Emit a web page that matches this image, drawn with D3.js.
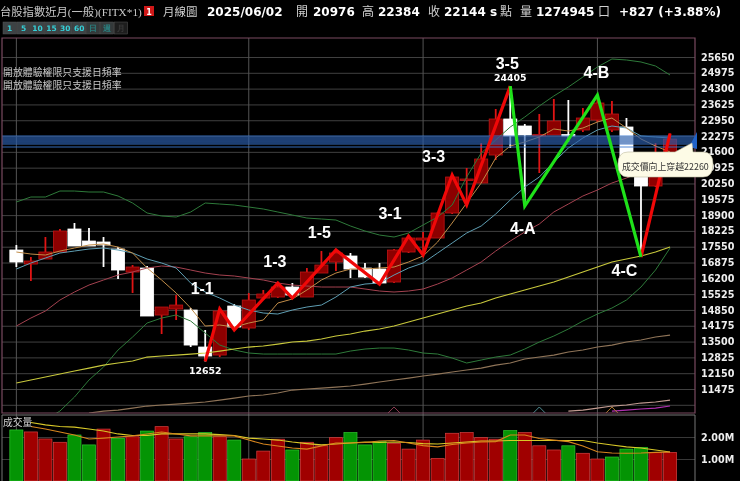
<!DOCTYPE html>
<html>
<head>
<meta charset="utf-8">
<script src="https://cdn.jsdelivr.net/npm/d3@7"></script>
<style>
  html, body { margin: 0; padding: 0; background: #000; overflow: hidden; }
  svg { display: block; filter: blur(0.3px); }
  text { font-family: "Noto Sans CJK TC", sans-serif; }
  .num { font-family: "DejaVu Sans", sans-serif; font-weight: bold; }
  .title { font-family: "Liberation Serif", "Noto Sans CJK TC", serif; }
  .wave { font-family: "Liberation Sans", sans-serif; font-weight: bold; font-size: 16px; fill: #fff; text-anchor: middle; }
</style>
</head>
<body>
<div id="chart"></div>
<script>
var width = 740, height = 481;

var months = [
  "2021/09","2021/10","2021/11","2021/12",
  "2022/01","2022/02","2022/03","2022/04","2022/05","2022/06","2022/07","2022/08","2022/09","2022/10","2022/11","2022/12",
  "2023/01","2023/02","2023/03","2023/04","2023/05","2023/06","2023/07","2023/08","2023/09","2023/10","2023/11","2023/12",
  "2024/01","2024/02","2024/03","2024/04","2024/05","2024/06","2024/07","2024/08","2024/09","2024/10","2024/11","2024/12",
  "2025/01","2025/02","2025/03","2025/04","2025/05","2025/06"
];

// open, high, low, close per month
var opens = [17409,16811,17025,17324,18306,17793,17751,17452,16470,16640,14633,14890,14847,13267,12925,15018,14078,15359,15402,15829,15402,16427,16897,17153,16640,16598,16043,17324,17836,17921,18989,20398,20270,21465,23003,22704,22300,22319,22340,22533,22960,22533,22661,21380,20142,20976];
var highs = [17622,17110,17964,18306,18562,18348,17964,17537,16768,16726,14975,15487,14932,13993,14890,15103,15573,15701,16000,16000,16640,17366,17409,17281,16854,16854,17452,18007,18178,19032,20611,20910,21978,23430,24405,22789,23216,23857,23814,23472,24027,23771,23045,21423,21978,22384];
var lows  = [16683,16085,17025,17324,17580,17580,16683,16171,15573,14591,13822,14420,13267,12652,12840,13993,13993,15274,15359,15359,15402,16427,16512,16213,16213,15957,16000,17281,17195,17921,18946,19330,20270,21252,21764,19288,20697,22319,22021,22448,22875,22448,21337,17110,20099,20900];
var closes = [16897,16939,17324,18220,17580,17580,17622,16555,16683,14591,14975,15060,13352,12883,14804,14121,15274,15530,15829,15487,16470,16768,17281,16598,16256,16000,17409,17921,17921,18989,20526,20441,21295,23003,22277,22319,22340,22917,22290,23045,23686,23216,21380,20142,21337,22144];

var ma5 = [17324,17238,17195,17366,17494,17622,17665,17537,17281,16640,16128,15573,14932,14164,14207,14121,14292,14420,15146,15317,15701,16128,16427,16598,16598,16640,16683,16897,17153,17751,18562,19416,20270,21338,21850,22021,22234,22576,22490,22618,22875,23045,22618,22149,21850,21594];
var ma10 = [16598,16854,17067,17281,17366,17452,17494,17409,17281,17025,16854,16640,16000,15616,15359,15060,14847,14719,14676,14847,14975,15060,15402,15829,15957,16000,16342,16640,16854,17281,17708,18135,18434,18946,19544,20099,20526,21167,21764,22191,22533,22704,22618,22277,22234,22191];
var ma20 = [14164,14505,14804,15274,15616,15914,16128,16342,16470,16640,16726,16683,16555,16427,16342,16299,16213,16128,16000,15914,15872,15829,15829,15829,15744,15658,15616,15658,15744,15957,16213,16555,16897,17366,17793,18178,18519,19032,19373,19715,19971,20270,20483,20740,20953,21167];
var ma60 = [11730,11858,11986,12114,12242,12370,12498,12584,12669,12840,12883,12925,12968,13011,13096,13182,13267,13310,13395,13481,13523,13609,13737,13822,13950,14036,14164,14335,14505,14676,14847,15018,15146,15359,15530,15701,15872,16043,16256,16470,16683,16897,17025,17153,17324,17537];
var bandUpper = [19459,19672,19672,19928,19928,19886,19886,19715,19416,18989,18861,18818,19032,19416,19373,19330,19245,19160,19032,18904,18775,18733,18690,18434,18220,18049,17964,18135,18477,18818,19330,20526,21551,22106,22661,23088,23558,23985,24369,24796,25223,25565,25522,25437,25266,24882];
var bandLower = [10150,10534,11132,11858,12413,13139,13694,14292,14505,14634,14377,13865,13352,13139,13011,12968,12968,12968,12968,12968,12968,13096,13182,13224,13224,13139,13011,12968,12797,12584,12712,12840,12925,13182,13481,13737,14036,14377,14676,14932,15274,15829,16555,17494];
var ma120 = [10449,10534,10577,10662,10748,10791,10833,10876,10919,11004,11089,11175,11218,11303,11431,11474,11516,11559,11602,11687,11773,11858,11943,12029,12114,12200,12285,12370,12498,12584,12755,12840,12925,13054,13139,13267,13352,13481,13566,13694,13779];
var ma240 = [10534,10577,10662,10748,10791,10876,10919,11004];
var ma300 = [10534,10577,10620,10662,10748];

// volume in millions, 1 = up month (red), 0 = down month (green)
var volumes = [2.32,2.23,1.91,1.76,2.09,1.64,2.36,1.94,2.01,2.27,2.47,1.91,2.01,2.20,2.01,1.86,1.00,1.36,1.90,1.41,1.76,1.60,1.97,2.20,1.64,1.79,1.71,1.45,1.86,1.03,2.17,2.20,1.97,1.90,2.29,2.20,1.60,1.41,1.60,1.26,1.00,1.09,1.45,1.53,1.29,1.30];
var volUp = [0,1,1,1,0,0,1,0,1,0,1,1,0,0,1,0,1,1,1,0,1,1,1,0,0,0,1,1,1,1,1,1,1,1,0,1,1,1,0,1,1,0,0,0,1,1];
var volMa5 = [2.48,2.36,2.23,2.09,1.91,1.95,2.00,2.05,2.14,2.23,2.14,2.05,2.05,2.05,2.05,1.86,1.68,1.59,1.50,1.45,1.59,1.73,1.73,1.75,1.82,1.84,1.73,1.61,1.55,1.66,1.73,1.77,1.79,2.09,2.09,1.93,1.86,1.79,1.59,1.33,1.27,1.26,1.27,1.30,1.32];
var volMa20 = [2.66,2.55,2.48,2.45,2.36,2.27,2.14,2.07,2.07,2.14,2.14,2.14,2.14,2.11,2.07,1.95,1.91,1.86,1.77,1.70,1.64,1.68,1.73,1.77,1.75,1.77,1.75,1.70,1.68,1.73,1.77,1.82,1.82,1.84,1.84,1.84,1.84,1.84,1.84,1.73,1.64,1.55,1.50,1.41,1.32];

var priceTicks = [25650,24975,24300,23625,22950,22275,21600,20925,20250,19575,18900,18225,17550,16875,16200,15525,14850,14175,13500,12825,12150,11475,10800];
var volTicks = [2, 1];
var yearLines = [0, 16, 28, 40];
var zoneLevels = [22277,22191,22106,22021,21935,21807];

// wave turning points: month index and whether it is a high or a low
var upWave = [[13,"l"],[14,"h"],[15,"l"],[18,"h"],[19,"l"],[22,"h"],[25,"l"],[27,"h"],[28,"l"],[30,"h"],[31,"l"],[34,"h"]];
var downWave = [[34,"h"],[35,"l"],[40,"h"],[43,"l"]];
var lastWave = [[43,"l"],[45,"h"]];

var waveLabels = [["1-1",13,-3,15786],["1-3",18,-3,16939],["1-5",21,-2,18178],["3-1",26,-4,18989],["3-3",29,-4,21423],["3-5",34,-3,25394],["4-A",35,-2,18348],["4-B",40,-1,25010],["4-C",42,-2,16555]];
var extremeLabels = [["24405",34,24405,-5],["12652",13,12652,6]];
var signalMarks = [[26,"#8a3a50"],[36,"#4f8f95"],[41,"#b07a30"]];

var buttons = ["1","5","10","15","30","60","日","週","月"];

// layout
var frame = { left: 2, right: 695, top: 38, bottom: 413, volTop: 415 };

var x = d3.scaleBand()
  .domain(d3.range(months.length))
  .range([9.1, 677.3])
  .paddingInner(0.1)
  .paddingOuter(0.05);
var bw = x.bandwidth();
function xc(i) { return x(i) + bw / 2; }

var y = d3.scaleLinear().domain([25650, 11475]).range([57, 389]);
var yVol = d3.scaleLinear().domain([0, 2]).range([481, 437]);

var svg = d3.select("#chart").append("svg")
  .attr("width", width)
  .attr("height", height)
  .style("background", "#000");

svg.append("clipPath").attr("id", "priceClip").append("rect")
  .attr("x", frame.left).attr("y", frame.top)
  .attr("width", frame.right - frame.left)
  .attr("height", frame.bottom - frame.top);

// --- header ---
var header = svg.append("g");
function head(txt, px, cls, size, fill) {
  header.append("text").attr("x", px).attr("y", 16)
    .attr("class", cls).style("font-size", size + "px")
    .style("fill", fill).text(txt);
}
head("台股指數近月(一般)(FITX*1)", 0, "title", 11.3, "#c8c8c8");
header.append("rect").attr("x", 144).attr("y", 6).attr("width", 10).attr("height", 10).attr("fill", "#d01818");
header.append("text").attr("x", 149).attr("y", 14.5).attr("text-anchor", "middle")
  .attr("class", "num").style("font-size", "8px").style("fill", "#fff").text("1");
head("月線圖", 163, "", 11.5, "#d0d0d0");
head("2025/06/02", 207, "num", 12, "#fff");
head("開", 296, "", 12, "#d0d0d0");
head("20976", 313, "num", 12, "#fff");
head("高", 362, "", 12, "#d0d0d0");
head("22384", 378, "num", 12, "#fff");
head("收", 428, "", 12, "#d0d0d0");
head("22144", 444, "num", 12, "#fff");
head("s", 490, "num", 12, "#fff");
head("點", 500, "", 12, "#d0d0d0");
head("量", 520, "", 12, "#d0d0d0");
head("1274945", 536, "num", 12, "#fff");
head("口", 598, "", 12, "#d0d0d0");
head("+827 (+3.88%)", 619, "num", 12, "#fff");

// period buttons
var btn = svg.append("g").selectAll("g").data(buttons).enter().append("g")
  .attr("transform", function(d, i) { return "translate(" + (3 + i * 13.9) + ",22)"; });
btn.append("rect").attr("width", 13.4).attr("height", 12)
  .attr("fill", function(d, i) { return i < 6 ? "#3d4244" : (i < 8 ? "#34393a" : "#1e1e1e"); })
  .attr("stroke", "#555").attr("stroke-width", 0.5);
btn.append("text").attr("x", 6.7).attr("y", 9.2).attr("text-anchor", "middle")
  .attr("class", "num").style("font-size", "7.5px")
  .style("fill", function(d, i) { return i < 6 ? "#35d0d8" : (i < 8 ? "#2a8080" : "#3a3a3a"); })
  .text(function(d) { return d; });

// --- grid and axes ---
var priceAxis = d3.axisRight(y)
  .tickValues(priceTicks)
  .tickSize(-(frame.right - frame.left))
  .tickPadding(6)
  .tickFormat(function(d) { return d === 10800 ? "" : d; });

var gp = svg.append("g").attr("transform", "translate(" + frame.right + ",0)").call(priceAxis);
gp.select(".domain").remove();
gp.selectAll("line").attr("stroke", "#404040");
gp.selectAll("text").attr("class", "num").style("font-size", "9.6px").style("fill", "#eee");

var volAxis = d3.axisRight(yVol)
  .tickValues(volTicks)
  .tickSize(-(frame.right - frame.left))
  .tickPadding(6)
  .tickFormat(function(d) { return d3.format(".2f")(d) + "M"; });

var gv = svg.append("g").attr("transform", "translate(" + frame.right + ",0)").call(volAxis);
gv.select(".domain").remove();
gv.selectAll("line").attr("stroke", "#383838");
gv.selectAll("text").attr("class", "num").style("font-size", "9.6px").style("fill", "#eee");

svg.append("g").selectAll("line").data(yearLines).enter().append("line")
  .attr("x1", xc).attr("x2", xc)
  .attr("y1", frame.top).attr("y2", height)
  .attr("stroke", "#555");

// --- candles ---
var idx = d3.range(months.length);
var plot = svg.append("g").attr("clip-path", "url(#priceClip)");

function isUp(i) { return closes[i] >= opens[i]; }

plot.append("g").selectAll("line").data(idx).enter().append("line")
  .attr("x1", xc).attr("x2", xc)
  .attr("y1", function(i) { return y(highs[i]); })
  .attr("y2", function(i) { return y(lows[i]); })
  .attr("stroke", function(i) { return isUp(i) ? "#e01414" : "#fff"; })
  .attr("stroke-width", 1.8);

plot.append("g").selectAll("rect").data(idx).enter().append("rect")
  .attr("x", function(i) { return x(i); })
  .attr("width", bw)
  .attr("y", function(i) { return y(Math.max(opens[i], closes[i])); })
  .attr("height", function(i) { return Math.max(1.5, Math.abs(y(opens[i]) - y(closes[i]))); })
  .attr("fill", function(i) { return isUp(i) ? "#8c0000" : "#fff"; })
  .attr("stroke", function(i) { return isUp(i) ? "#c01414" : "#fff"; })
  .attr("stroke-width", 0.8);

// --- moving averages and bands ---
function drawLine(parent, values, start, yScale, color, w) {
  var line = d3.line()
    .x(function(d, i) { return xc(i + start); })
    .y(function(d) { return yScale(d); });
  parent.append("path").datum(values)
    .attr("d", line)
    .attr("fill", "none")
    .attr("stroke", color)
    .attr("stroke-width", w);
}
drawLine(plot, bandUpper, 0, y, "#2e7a3a", 1);
drawLine(plot, bandLower, 2, y, "#2e7a3a", 1);
drawLine(plot, ma120, 5, y, "#8f7458", 1.2);
drawLine(plot, ma240, 38, y, "#c09a90", 1.2);
drawLine(plot, ma300, 41, y, "#b030b0", 1.2);
drawLine(plot, ma60, 0, y, "#c8c83c", 1.2);
drawLine(plot, ma20, 0, y, "#a54250", 1);
drawLine(plot, ma10, 0, y, "#5f9fb4", 1);
drawLine(plot, ma5, 0, y, "#c08c48", 1);

// small signal triangles on the lower edge
plot.append("g").selectAll("path").data(signalMarks).enter().append("path")
  .attr("d", function(d) {
    var cx = xc(d[0]);
    return "M" + (cx - 6) + "," + frame.bottom + "L" + cx + "," + (frame.bottom - 6) + "L" + (cx + 6) + "," + frame.bottom;
  })
  .attr("fill", "none")
  .attr("stroke", function(d) { return d[1]; })
  .attr("stroke-width", 1);

// --- blue price zone, over the candles ---
plot.append("rect")
  .attr("x", frame.left).attr("width", frame.right - frame.left)
  .attr("y", y(zoneLevels[0]))
  .attr("height", y(zoneLevels[4]) - y(zoneLevels[0]))
  .attr("fill", "#102c66").attr("opacity", 0.4);
plot.append("g").selectAll("line").data(zoneLevels).enter().append("line")
  .attr("x1", frame.left).attr("x2", frame.right)
  .attr("y1", y).attr("y2", y)
  .attr("stroke", "#3a78d0").attr("stroke-width", 0.9);

// --- wave lines ---
function wavePrice(p) { return p[1] === "h" ? highs[p[0]] : lows[p[0]]; }
var waveLine = d3.line()
  .x(function(p) { return xc(p[0]); })
  .y(function(p) { return y(wavePrice(p)); });

[[upWave, "#f00808"], [lastWave, "#f00808"], [downWave, "#1fe21a"]].forEach(function(w) {
  plot.append("path").datum(w[0])
    .attr("d", waveLine)
    .attr("fill", "none")
    .attr("stroke", w[1])
    .attr("stroke-width", 3.2)
    .attr("stroke-linejoin", "miter");
});

svg.append("g").selectAll("text").data(waveLabels).enter().append("text")
  .attr("class", "wave")
  .attr("x", function(d) { return xc(d[1]) + d[2]; })
  .attr("y", function(d) { return y(d[3]); })
  .attr("dy", "0.36em")
  .text(function(d) { return d[0]; });

svg.append("g").selectAll("text").data(extremeLabels).enter().append("text")
  .attr("class", "num")
  .attr("x", function(d) { return xc(d[1]); })
  .attr("y", function(d) { return y(d[2]) + d[3]; })
  .attr("dy", function(d) { return d[3] > 0 ? "0.72em" : "0"; })
  .attr("text-anchor", "middle")
  .style("font-size", "9.4px")
  .style("fill", "#fff")
  .text(function(d) { return d[0]; });

// --- frames ---
svg.append("path")
  .attr("d", "M" + frame.left + "," + frame.bottom + "V" + frame.top + "H" + frame.right + "V" + frame.bottom + "Z")
  .attr("fill", "none").attr("stroke", "#7a4a60").attr("stroke-width", 1.2);
svg.append("path")
  .attr("d", "M" + frame.left + "," + height + "V" + frame.volTop + "H" + frame.right + "V" + height)
  .attr("fill", "none").attr("stroke", "#777").attr("stroke-width", 1);

// notices
svg.append("g").selectAll("text").data([72, 85]).enter().append("text")
  .attr("x", 3).attr("y", function(d) { return d; }).attr("dy", "0.36em")
  .style("font-size", "9.9px").style("fill", "#c8c8c8")
  .text("開放體驗權限只支援日頻率");

// --- volume ---
var vol = svg.append("g");
vol.selectAll("rect").data(idx).enter().append("rect")
  .attr("x", function(i) { return x(i); })
  .attr("width", bw)
  .attr("y", function(i) { return yVol(volumes[i]); })
  .attr("height", function(i) { return yVol(0) - yVol(volumes[i]); })
  .attr("fill", function(i) { return volUp[i] ? "#a00000" : "#049404"; })
  .attr("stroke", function(i) { return volUp[i] ? "#d84040" : "#2fc92f"; })
  .attr("stroke-width", 0.7);

drawLine(vol, volMa20, 1, yVol, "#d8c828", 1.1);
drawLine(vol, volMa5, 1, yVol, "#d8861e", 1.1);

svg.append("text").attr("x", 3).attr("y", 422).attr("dy", "0.36em")
  .style("font-size", "9.8px").style("fill", "#d0d0d0").text("成交量");

// --- alert arrow and bubble ---
svg.append("path")
  .attr("d", "M697,132L689,147L697,149Z")
  .attr("fill", "#1f62c8");

var bubble = d3.path();
bubble.moveTo(628, 152);
bubble.lineTo(675, 152);
bubble.lineTo(692, 143);
bubble.lineTo(693, 152);
bubble.lineTo(703, 152);
bubble.quadraticCurveTo(713, 152, 713, 164);
bubble.quadraticCurveTo(713, 177, 703, 177);
bubble.lineTo(628, 177);
bubble.quadraticCurveTo(618, 177, 618, 164);
bubble.quadraticCurveTo(618, 152, 628, 152);
bubble.closePath();
svg.append("path").attr("d", bubble.toString()).attr("fill", "#fdfbe6").attr("stroke", "#bdbba0").attr("stroke-width", 0.6);
svg.append("text").attr("x", 622).attr("y", 167).attr("dy", "0.36em")
  .style("font-size", "8.9px").style("fill", "#333")
  .text("成交價向上穿越22260");
</script>
</body>
</html>
